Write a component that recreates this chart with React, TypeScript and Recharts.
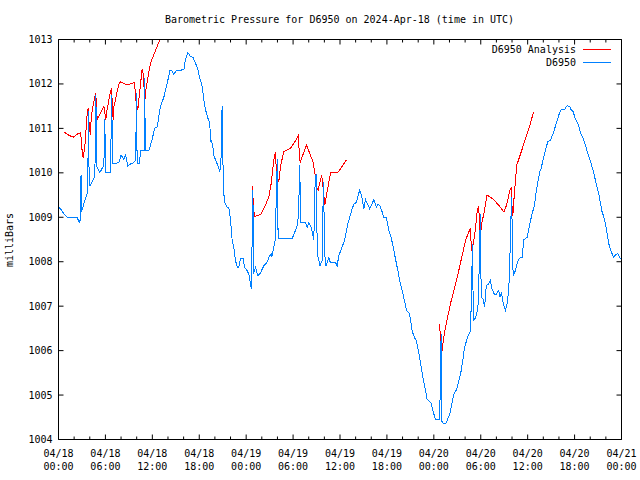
import React from "react";
import { LineChart, Line, XAxis, YAxis, Legend } from "recharts";

// hours since 2024-04-18 00:00 UTC, pressure in mb
const analysis18: [number, number][] = [
  [0.77, 1010.91], [1.3, 1010.85], [1.88, 1010.8], [2.5, 1010.88], [2.85, 1010.9],
  [2.95, 1010.6], [3.15, 1010.34], [3.37, 1010.6], [3.67, 1011.34], [3.79, 1011.46],
  [3.96, 1010.97], [4.09, 1010.86], [4.2, 1011.3], [4.73, 1011.79], [4.85, 1011.6],
  [4.94, 1011.2], [5.8, 1011.5], [6.05, 1011.2], [6.2, 1011.4], [6.65, 1011.84],
  [6.78, 1011.9], [6.99, 1011.2], [7.1, 1011.5], [7.72, 1012.0], [7.93, 1012.05],
  [8.78, 1011.98], [9.72, 1012.03], [9.93, 1011.57], [10.14, 1011.42], [10.7, 1012.34],
  [10.85, 1012.2], [11.04, 1011.62], [11.2, 1011.9], [11.76, 1012.47], [12.83, 1012.94],
  [13.0, 1012.99],
];

const analysis19: [number, number][] = [
  [24.85, 1009.7], [24.88, 1009.38], [25.06, 1009.02], [25.83, 1009.06], [26.26, 1009.19],
  [26.9, 1009.46], [27.2, 1009.76], [27.54, 1010.29], [27.75, 1010.47], [27.88, 1009.95],
  [28.18, 1009.8], [28.39, 1010.14], [28.81, 1010.48], [29.67, 1010.55], [30.09, 1010.66],
  [30.65, 1010.83], [30.86, 1010.29], [30.95, 1010.25], [31.7, 1010.63], [32.55, 1010.25],
  [32.8, 1009.99], [32.95, 1009.7], [33.2, 1009.61], [33.65, 1009.95], [33.85, 1009.65],
  [34.05, 1009.27], [34.5, 1009.72], [34.8, 1010.0], [35.8, 1010.02], [36.83, 1010.29],
];

const analysis20: [number, number][] = [
  [48.76, 1006.59], [48.85, 1006.14], [49.06, 1006.0], [49.2, 1006.22], [49.49, 1006.52],
  [50.12, 1007.05], [50.55, 1007.35], [51.19, 1007.8], [51.62, 1008.14], [52.05, 1008.48],
  [52.68, 1008.76], [52.81, 1008.25], [52.95, 1008.3], [53.33, 1008.74], [53.55, 1009.16],
  [53.75, 1009.25], [53.84, 1008.78], [53.97, 1008.59], [54.1, 1008.85], [54.45, 1009.12],
  [54.8, 1009.5], [55.65, 1009.4], [56.3, 1009.27], [56.95, 1009.12], [57.3, 1009.27],
  [57.72, 1009.61], [57.88, 1009.67], [57.95, 1009.35], [58.1, 1009.04], [58.27, 1009.46],
  [58.6, 1010.17], [58.83, 1010.29], [59.25, 1010.51], [59.67, 1010.74], [60.1, 1010.96],
  [60.53, 1011.23], [60.74, 1011.36],
];

const obs18: [number, number][] = [
  [0.05, 1009.22], [0.26, 1009.19], [0.6, 1009.1], [1.11, 1009.0], [2.39, 1009.0],
  [2.64, 1008.88], [2.81, 1008.95], [2.88, 1009.95], [2.95, 1009.12], [3.24, 1009.3],
  [3.67, 1009.53], [3.75, 1010.0], [3.85, 1011.4], [3.92, 1009.72], [4.09, 1009.72],
  [4.3, 1009.8], [4.65, 1009.92], [4.78, 1011.75], [4.88, 1010.15], [5.03, 1010.1],
  [5.28, 1010.0], [5.58, 1010.1], [5.8, 1010.15], [5.92, 1011.2], [6.02, 1010.0],
  [6.65, 1010.0], [6.8, 1011.75], [6.92, 1010.2], [7.72, 1010.23], [8.01, 1010.4],
  [8.36, 1010.3], [8.57, 1010.4], [8.87, 1010.15], [9.21, 1010.2], [9.63, 1010.23],
  [9.88, 1010.3], [9.96, 1011.8], [10.06, 1010.2], [10.36, 1010.2], [10.49, 1010.5],
  [10.95, 1010.5], [11.02, 1012.13], [11.1, 1010.5], [11.55, 1010.5], [11.98, 1010.75],
  [12.28, 1011.0], [12.62, 1011.03], [13.04, 1011.5], [13.47, 1011.7], [13.89, 1012.0],
  [14.24, 1012.3], [14.5, 1012.3], [14.75, 1012.22], [15.09, 1012.3], [16.03, 1012.32],
  [16.24, 1012.55], [16.54, 1012.71], [16.88, 1012.62], [17.22, 1012.59], [17.52, 1012.47],
  [17.82, 1012.32], [18.07, 1012.13], [18.37, 1011.95], [18.58, 1011.64], [18.8, 1011.42],
  [19.1, 1011.23], [19.35, 1011.12], [19.44, 1010.7], [19.55, 1010.72], [19.74, 1010.59],
  [19.86, 1010.4], [20.08, 1010.29], [20.37, 1010.17], [20.63, 1010.02], [20.8, 1010.36],
  [20.92, 1011.5], [20.98, 1011.1], [21.05, 1010.0], [21.2, 1009.35], [21.57, 1009.23],
  [21.8, 1009.2], [22.0, 1008.93], [22.21, 1008.48], [22.42, 1008.33], [22.63, 1008.03],
  [22.85, 1007.88], [23.05, 1007.88], [23.27, 1008.07], [23.61, 1008.07], [23.79, 1007.88],
  [23.95, 1007.84],
];

const obs19: [number, number][] = [
  [24.13, 1007.8], [24.34, 1007.72], [24.55, 1007.5], [24.68, 1007.38], [24.77, 1008.63],
  [24.86, 1009.61], [24.94, 1007.72], [25.19, 1007.87], [25.49, 1007.69], [25.83, 1007.75],
  [26.26, 1007.91], [26.68, 1007.99], [26.9, 1008.1], [27.2, 1008.18], [27.3, 1008.12],
  [27.54, 1008.33], [27.75, 1008.52], [27.88, 1009.83], [28.02, 1010.3], [28.08, 1008.52],
  [29.88, 1008.52], [30.3, 1008.7], [30.6, 1008.85], [30.73, 1009.31], [30.86, 1010.17],
  [30.95, 1008.89], [31.58, 1008.89], [31.8, 1008.78], [32.0, 1008.87], [32.31, 1008.78],
  [32.65, 1008.48], [32.8, 1009.68], [32.95, 1009.98], [33.1, 1008.18], [33.29, 1008.03],
  [33.45, 1007.91], [33.71, 1008.03], [33.88, 1009.8], [33.95, 1009.16], [34.1, 1007.99],
  [34.22, 1007.91], [34.57, 1008.1], [34.75, 1007.99], [35.42, 1007.99], [35.63, 1007.9],
  [35.85, 1008.14], [36.27, 1008.33], [36.57, 1008.48], [36.83, 1008.7], [37.0, 1008.85],
  [37.25, 1009.0], [37.55, 1009.19], [37.77, 1009.29], [38.11, 1009.34], [38.32, 1009.5],
  [38.53, 1009.61], [38.75, 1009.5], [39.04, 1009.19], [39.26, 1009.4], [39.5, 1009.3],
  [39.8, 1009.19], [40.1, 1009.3], [40.32, 1009.4], [40.67, 1009.23], [40.85, 1009.29],
  [41.09, 1009.27], [41.39, 1009.12], [41.6, 1009.0], [41.94, 1008.99], [42.24, 1008.7],
  [42.54, 1008.55], [42.8, 1008.33], [43.1, 1008.06], [43.4, 1007.8], [43.65, 1007.57],
  [43.95, 1007.35], [44.25, 1007.12], [44.5, 1006.9], [44.8, 1006.86], [45.01, 1006.71],
  [45.23, 1006.44], [45.53, 1006.29], [45.78, 1006.22], [46.08, 1005.95], [46.29, 1005.73],
  [46.5, 1005.5], [46.72, 1005.28], [46.93, 1005.12], [47.14, 1004.9], [47.4, 1004.86],
  [47.66, 1004.82], [47.91, 1004.63],
];

const obs20: [number, number][] = [
  [48.21, 1004.45], [48.72, 1004.45], [48.8, 1004.94], [48.86, 1005.92], [48.95, 1006.37],
  [49.02, 1004.41], [49.27, 1004.35], [49.53, 1004.35], [49.91, 1004.52], [50.12, 1004.63],
  [50.55, 1005.01], [50.89, 1005.12], [51.19, 1005.31], [51.49, 1005.54], [51.75, 1005.84],
  [51.92, 1006.07], [52.18, 1006.22], [52.47, 1006.37], [52.68, 1006.44], [52.77, 1006.97],
  [52.9, 1008.03], [52.98, 1008.4], [53.03, 1006.67], [53.33, 1006.74], [53.63, 1006.93],
  [53.75, 1007.5], [53.88, 1008.55], [53.97, 1009.08], [54.05, 1007.2], [54.3, 1007.16],
  [54.5, 1006.99], [54.71, 1007.46], [55.01, 1007.5], [55.22, 1007.57], [55.43, 1007.39],
  [55.73, 1007.27], [56.0, 1007.27], [56.3, 1007.36], [56.43, 1007.2], [56.65, 1007.31],
  [56.86, 1007.08], [57.16, 1006.9], [57.37, 1007.05], [57.59, 1007.39], [57.8, 1008.48],
  [57.93, 1009.46], [58.05, 1008.59], [58.14, 1007.69], [58.44, 1007.8], [58.65, 1007.95],
  [58.87, 1008.06], [59.16, 1008.1], [59.29, 1008.1], [59.5, 1008.49], [59.93, 1008.55],
  [60.27, 1008.85], [60.57, 1009.08], [60.87, 1009.27], [61.12, 1009.61], [61.3, 1009.8],
  [61.55, 1010.02], [61.72, 1010.1], [62.06, 1010.36], [62.28, 1010.51], [62.57, 1010.7],
  [62.92, 1010.74], [63.26, 1010.89], [63.68, 1011.12], [63.98, 1011.3], [64.28, 1011.42],
  [64.7, 1011.42], [65.04, 1011.51], [65.39, 1011.49], [65.56, 1011.42], [65.81, 1011.38],
  [66.11, 1011.21], [66.41, 1011.12], [66.75, 1010.91], [67.09, 1010.78], [67.39, 1010.63],
  [67.6, 1010.48], [67.82, 1010.36], [68.12, 1010.21], [68.46, 1009.99], [68.67, 1009.83],
  [68.88, 1009.68], [69.1, 1009.53], [69.31, 1009.31], [69.52, 1009.12], [69.74, 1009.01],
  [69.95, 1008.85], [70.16, 1008.63], [70.38, 1008.4], [70.59, 1008.27], [70.8, 1008.18],
  [71.01, 1008.09], [71.23, 1008.16], [71.53, 1008.18], [71.78, 1008.09], [72.0, 1008.05],
];

const hourTicks = [0, 2, 4, 6, 8, 10, 12, 14, 16, 18, 20, 22, 24, 26, 28, 30, 32, 34, 36,
  38, 40, 42, 44, 46, 48, 50, 52, 54, 56, 58, 60, 62, 64, 66, 68, 70, 72];
const dayLabels = ["04/18", "04/18", "04/18", "04/18", "04/19", "04/19", "04/19", "04/19",
  "04/20", "04/20", "04/20", "04/20", "04/21"];
const timeLabels = ["00:00", "06:00", "12:00", "18:00"];
const pressureTicks = [1004, 1005, 1006, 1007, 1008, 1009, 1010, 1011, 1012, 1013];

const seriesNames = ["D6950 Analysis", "D6950"];
const FONT = "'DejaVu Sans Mono', monospace";

const toRows = (pts: [number, number][]) => pts.map(([h, p]) => ({ h, p }));

const analysisData = [
  ...toRows(analysis18),
  { h: 18, p: null },
  ...toRows(analysis19),
  { h: 42, p: null },
  ...toRows(analysis20),
];
const obsData = [...toRows(obs18), ...toRows(obs19), ...toRows(obs20)];

const BottomTick = (props: any) => {
  const { x, y, payload } = props;
  const major = payload.value % 6 === 0;
  const i = payload.value / 6;
  return (
    <g>
      <line x1={x} y1={y} x2={x} y2={y - (major ? 5 : 3)} stroke="#000" />
      {major && (
        <text x={x} y={y + 17} textAnchor="middle" fontFamily={FONT} fontSize={10} fill="#000">
          {dayLabels[i]}
        </text>
      )}
      {major && (
        <text x={x} y={y + 30.5} textAnchor="middle" fontFamily={FONT} fontSize={10} fill="#000">
          {timeLabels[i % 4]}
        </text>
      )}
    </g>
  );
};

const TopTick = (props: any) => {
  const { x, y, payload } = props;
  const major = payload.value % 6 === 0;
  return <line x1={x} y1={y} x2={x} y2={y + (major ? 5 : 3)} stroke="#000" />;
};

const LeftTick = (props: any) => {
  const { x, y, payload } = props;
  return (
    <g>
      <line x1={x} y1={y} x2={x + 5} y2={y} stroke="#000" />
      <text x={x - 6} y={y + 3.5} textAnchor="end" fontFamily={FONT} fontSize={10} fill="#000">
        {payload.value}
      </text>
    </g>
  );
};

const RightTick = (props: any) => {
  const { x, y } = props;
  return <line x1={x} y1={y} x2={x - 5} y2={y} stroke="#000" />;
};

const renderLegend = (props: any) => {
  const items = [...(props.payload || [])].sort(
    (a: any, b: any) => seriesNames.indexOf(a.value) - seriesNames.indexOf(b.value)
  );
  return (
    <div style={{ fontFamily: FONT, fontSize: 10, color: "#000" }}>
      {items.map((e: any) => (
        <div
          key={e.value}
          style={{ display: "flex", alignItems: "center", justifyContent: "flex-end", height: 13 }}
        >
          <span style={{ marginRight: 7, lineHeight: "13px" }}>{e.value}</span>
          <span style={{ display: "inline-block", width: 28, height: 1, background: e.color }} />
        </div>
      ))}
    </div>
  );
};

export default function App() {
  return (
    <div style={{ position: "absolute", left: 0, top: 0, width: 640, height: 480, background: "#fff" }}>
      <style>{`.recharts-line-curve{shape-rendering:crispEdges}`}</style>
      <div
        style={{
          position: "absolute", left: 58, top: 14, width: 563, textAlign: "center",
          fontFamily: FONT, fontSize: 10, lineHeight: "12px", color: "#000",
        }}
      >
        Barometric Pressure for D6950 on 2024-Apr-18 (time in UTC)
      </div>
      <div
        style={{
          position: "absolute", left: -40, top: 233.5, width: 100, height: 12, textAlign: "center",
          fontFamily: FONT, fontSize: 10, lineHeight: "12px", color: "#000",
          transform: "rotate(-90deg)",
        }}
      >
        milliBars
      </div>
      <LineChart
        width={640}
        height={480}
        margin={{ top: 38.5, right: 17.5, bottom: 39.5, left: 57.5 }}
      >
        <XAxis
          xAxisId="bottom" dataKey="h" type="number" domain={[0, 72]} allowDataOverflow
          ticks={hourTicks} interval={0} tickSize={0} tickMargin={0} tickLine={false}
          height={1} axisLine={{ stroke: "#000" }} tick={BottomTick}
        />
        <XAxis
          xAxisId="top" orientation="top" dataKey="h" type="number" domain={[0, 72]} allowDataOverflow
          ticks={hourTicks} interval={0} tickSize={0} tickMargin={0} tickLine={false}
          height={1} axisLine={{ stroke: "#000" }} tick={TopTick}
        />
        <YAxis
          yAxisId="left" type="number" domain={[1004, 1013]} allowDataOverflow
          ticks={pressureTicks} interval={0} tickSize={0} tickMargin={0} tickLine={false}
          width={1} axisLine={{ stroke: "#000" }} tick={LeftTick}
        />
        <YAxis
          yAxisId="right" orientation="right" type="number" domain={[1004, 1013]} allowDataOverflow
          ticks={pressureTicks} interval={0} tickSize={0} tickMargin={0} tickLine={false}
          width={1} axisLine={{ stroke: "#000" }} tick={RightTick}
        />
        <Legend
          layout="horizontal" align="center" verticalAlign="middle"
          content={renderLegend}
          wrapperStyle={{ top: 42.5, right: 29, left: "auto", width: "auto", bottom: "auto" }}
        />
        <Line
          data={analysisData} dataKey="p" name="D6950 Analysis" xAxisId="bottom" yAxisId="left"
          stroke="#ff0000" strokeWidth={1} dot={false} activeDot={false} connectNulls={false}
          isAnimationActive={false} type="linear"
        />
        <Line
          data={obsData} dataKey="p" name="D6950" xAxisId="top" yAxisId="right"
          stroke="#0080ff" strokeWidth={1} dot={false} activeDot={false}
          isAnimationActive={false} type="linear"
        />
      </LineChart>
    </div>
  );
}
